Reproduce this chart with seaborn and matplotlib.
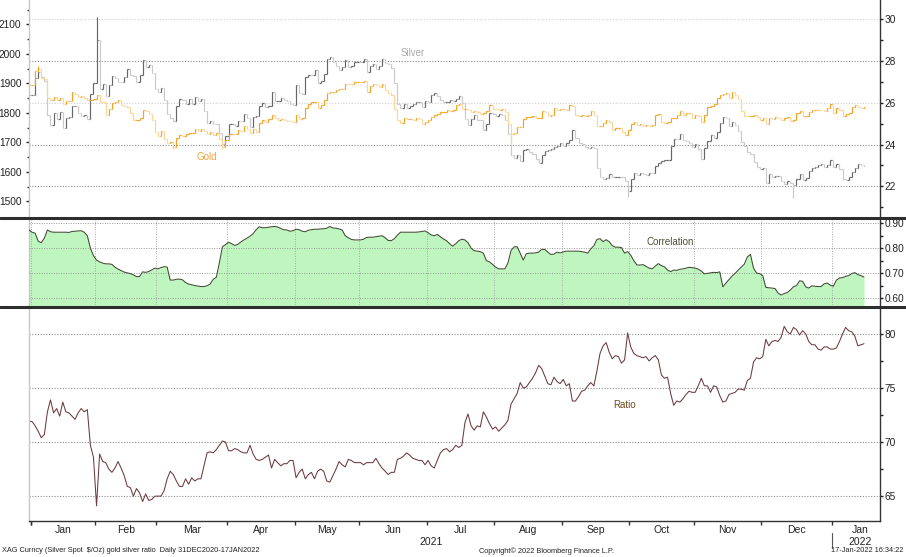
import numpy as np
import pandas as pd
import matplotlib
matplotlib.use("Agg")
import matplotlib.pyplot as plt
import seaborn as sns
from matplotlib.lines import Line2D
from matplotlib.ticker import MultipleLocator, FormatStrFormatter

# daily closes, 31DEC2020 - 17JAN2022 (one row per month)
gold = [1895,
        1895, 1943, 1950, 1918, 1913, 1849, 1844, 1855, 1845, 1851, 1829, 1840, 1840, 1871, 1865, 1855, 1856, 1850, 1843, 1843, 1848,
        1860, 1836, 1835, 1794, 1814, 1833, 1838, 1842, 1825, 1823, 1819, 1799, 1775, 1775, 1784, 1809, 1806, 1797, 1775, 1734,
        1723, 1737, 1712, 1697, 1700, 1683, 1716, 1726, 1722, 1727, 1731, 1731, 1745, 1737, 1745, 1738, 1727, 1735, 1725, 1732, 1712, 1685, 1708,
        1728, 1729, 1728, 1743, 1737, 1756, 1744, 1732, 1746, 1736, 1764, 1777, 1770, 1779, 1793, 1783, 1777, 1780, 1777, 1773, 1772, 1769,
        1792, 1779, 1784, 1815, 1831, 1836, 1837, 1815, 1827, 1844, 1867, 1869, 1870, 1876, 1881, 1882, 1898, 1897, 1896, 1903, 1905,
        1903, 1908, 1871, 1891, 1898, 1893, 1888, 1899, 1877, 1866, 1859, 1812, 1774, 1764, 1782, 1778, 1779, 1776, 1781, 1780, 1761, 1770,
        1777, 1787, 1791, 1797, 1803, 1803, 1808, 1806, 1809, 1825, 1829, 1812, 1813, 1811, 1803, 1806, 1802, 1797, 1799, 1806, 1828, 1814,
        1813, 1810, 1812, 1804, 1763, 1728, 1730, 1752, 1753, 1779, 1786, 1786, 1788, 1781, 1781, 1805, 1802, 1790, 1792, 1817, 1810, 1814,
        1814, 1810, 1827, 1823, 1794, 1788, 1794, 1788, 1794, 1805, 1794, 1754, 1754, 1764, 1774, 1768, 1743, 1750, 1750, 1734, 1726, 1743,
        1761, 1769, 1760, 1762, 1756, 1757, 1754, 1760, 1793, 1796, 1768, 1765, 1769, 1782, 1783, 1792, 1807, 1793, 1798, 1799, 1783,
        1793, 1788, 1769, 1792, 1818, 1824, 1830, 1849, 1862, 1865, 1866, 1851, 1869, 1860, 1846, 1806, 1790, 1789, 1789, 1792, 1785, 1775,
        1782, 1762, 1783, 1779, 1785, 1783, 1776, 1783, 1787, 1771, 1777, 1798, 1805, 1790, 1790, 1803, 1808, 1811, 1811, 1810, 1805, 1815, 1829,
        1801, 1815, 1810, 1789, 1797, 1801, 1818, 1826, 1821, 1817, 1818]

silver = [26.36,
          26.36, 27.17, 27.46, 27.24, 27.06, 25.40, 24.95, 25.52, 25.24, 25.57, 24.82, 25.27, 25.31, 25.84, 25.87, 25.52, 25.39, 25.41, 25.25, 26.44, 26.94,
          29.02, 26.65, 26.91, 26.34, 26.87, 27.28, 27.19, 27.01, 27.00, 27.25, 27.60, 27.34, 27.31, 27.02, 27.32, 28.05, 27.70, 27.82, 27.43, 26.68,
          26.51, 26.72, 26.14, 25.48, 25.26, 25.12, 25.84, 26.19, 26.13, 25.93, 26.19, 25.95, 26.28, 26.08, 26.20, 25.63, 25.03, 25.11, 25.00, 24.99, 24.56, 24.04, 24.40,
          24.97, 24.99, 24.90, 25.15, 25.14, 25.45, 25.28, 24.85, 25.34, 25.38, 25.83, 25.98, 25.80, 25.86, 26.52, 26.07, 26.09, 26.25, 26.13, 26.07, 25.94, 25.90,
          26.87, 26.47, 26.43, 27.25, 27.33, 27.32, 27.58, 26.97, 27.07, 27.40, 28.12, 28.19, 27.95, 27.79, 27.58, 27.72, 28.04, 27.73, 27.76, 27.94, 27.97,
          27.94, 28.10, 27.47, 27.77, 27.87, 27.64, 27.76, 28.09, 27.89, 27.85, 27.66, 26.96, 25.94, 25.75, 25.94, 25.77, 25.86, 25.93, 26.04, 26.06, 25.78, 26.07,
          26.02, 26.36, 26.49, 26.31, 26.13, 26.02, 26.05, 26.14, 26.10, 26.18, 26.32, 26.00, 25.25, 24.94, 25.22, 25.40, 25.20, 25.17, 24.71, 24.98, 25.50, 25.48,
          25.39, 25.49, 25.41, 25.20, 24.49, 23.51, 23.38, 23.52, 23.22, 23.72, 23.78, 23.66, 23.56, 23.31, 23.10, 23.50, 23.68, 23.74, 23.80, 23.91, 23.94, 24.06,
          23.93, 24.07, 24.23, 24.70, 24.31, 24.10, 24.02, 23.90, 23.86, 23.91, 23.86, 22.90, 22.43, 22.36, 22.40, 22.58, 22.43, 22.44, 22.46, 22.43, 22.24, 21.76,
          22.35, 22.62, 22.56, 22.62, 22.57, 22.55, 22.63, 22.62, 22.99, 23.14, 23.20, 23.25, 23.28, 23.92, 24.29, 24.28, 24.52, 24.23, 24.17, 24.08, 23.90,
          24.03, 23.78, 23.31, 23.83, 24.18, 24.45, 24.34, 24.62, 25.06, 25.31, 25.28, 24.88, 25.09, 24.93, 24.65, 24.11, 23.93, 23.63, 23.57, 23.15, 22.94, 22.84,
          22.88, 22.16, 22.60, 22.43, 22.48, 22.48, 22.28, 22.09, 22.28, 22.14, 22.05, 22.36, 22.59, 22.29, 22.38, 22.74, 22.89, 22.92, 23.04, 23.06, 22.91, 23.03, 23.27,
          22.91, 23.06, 22.82, 22.36, 22.30, 22.43, 22.67, 22.88, 23.08, 23.00, 22.98]

ratio = [71.9,
         71.9, 71.5, 71.0, 70.4, 70.7, 72.8, 73.9, 72.7, 73.1, 72.4, 73.7, 72.8, 72.7, 72.4, 72.1, 72.7, 73.1, 72.8, 73.0, 69.7, 68.6,
         64.1, 68.9, 68.2, 68.1, 67.5, 67.2, 67.6, 68.2, 67.6, 66.9, 65.9, 65.8, 65.0, 65.7, 65.3, 64.5, 65.2, 64.6, 64.7, 65.0,
         65.0, 65.0, 65.5, 66.6, 67.3, 67.0, 66.4, 65.9, 65.9, 66.6, 66.1, 66.7, 66.4, 66.6, 66.6, 67.8, 69.0, 69.1, 69.0, 69.3, 69.7, 70.1, 70.0,
         69.2, 69.2, 69.4, 69.3, 69.1, 69.0, 69.0, 69.7, 68.9, 68.4, 68.3, 68.4, 68.6, 68.8, 67.6, 68.4, 68.1, 67.8, 68.0, 68.0, 68.3, 68.3,
         66.7, 67.2, 67.5, 66.6, 67.0, 67.2, 66.6, 67.3, 67.5, 67.3, 66.4, 66.3, 66.9, 67.5, 68.2, 67.9, 67.7, 68.4, 68.3, 68.1, 68.1,
         68.1, 67.9, 68.1, 68.1, 68.1, 68.5, 68.0, 67.6, 67.3, 67.0, 67.2, 67.2, 68.4, 68.5, 68.7, 69.0, 68.8, 68.5, 68.4, 68.3, 68.3, 67.9,
         68.3, 67.8, 67.6, 68.3, 69.0, 69.3, 69.4, 69.1, 69.3, 69.7, 69.5, 69.7, 71.8, 72.6, 71.5, 71.1, 71.5, 71.4, 72.8, 72.3, 71.7, 71.2,
         71.4, 71.0, 71.3, 71.6, 72.0, 73.5, 74.0, 74.5, 75.5, 75.0, 75.1, 75.5, 75.9, 76.4, 77.1, 76.8, 76.1, 75.4, 75.3, 76.0, 75.6, 75.4,
         75.8, 75.2, 75.4, 73.8, 73.8, 74.2, 74.7, 74.8, 75.2, 75.5, 75.2, 76.6, 78.2, 78.9, 79.2, 78.3, 77.7, 78.0, 77.9, 77.3, 77.6, 80.1,
         78.8, 78.2, 78.0, 77.9, 77.8, 77.9, 77.5, 77.8, 78.0, 77.6, 76.2, 75.9, 76.0, 74.5, 73.4, 73.8, 73.7, 74.0, 74.4, 74.7, 74.6,
         74.6, 75.2, 75.9, 75.2, 75.2, 74.6, 75.2, 75.1, 74.3, 73.7, 73.8, 74.4, 74.5, 74.6, 74.9, 74.9, 74.8, 75.7, 75.9, 77.4, 77.8, 77.7,
         77.9, 79.5, 78.9, 79.3, 79.4, 79.3, 79.7, 80.7, 80.2, 80.0, 80.6, 80.4, 79.9, 80.3, 80.0, 79.3, 79.0, 79.0, 78.6, 78.5, 78.8, 78.8, 78.6,
         78.6, 78.7, 79.3, 80.0, 80.6, 80.3, 80.2, 79.8, 78.9, 79.0, 79.1]

corr = [0.873,
        0.864, 0.860, 0.828, 0.822, 0.840, 0.873, 0.866, 0.864, 0.864, 0.864, 0.864, 0.864, 0.863, 0.867, 0.868, 0.869, 0.870, 0.864, 0.850, 0.800, 0.770,
        0.752, 0.745, 0.740, 0.737, 0.737, 0.735, 0.724, 0.716, 0.710, 0.704, 0.701, 0.698, 0.693, 0.686, 0.686, 0.705, 0.703, 0.706, 0.713, 0.720,
        0.717, 0.722, 0.726, 0.724, 0.672, 0.672, 0.675, 0.676, 0.673, 0.662, 0.656, 0.653, 0.650, 0.648, 0.646, 0.646, 0.649, 0.656, 0.675, 0.683, 0.740, 0.806, 0.814,
        0.824, 0.818, 0.811, 0.815, 0.825, 0.833, 0.840, 0.848, 0.858, 0.874, 0.886, 0.882, 0.882, 0.884, 0.886, 0.887, 0.885, 0.879, 0.874, 0.873, 0.868, 0.870,
        0.876, 0.874, 0.868, 0.866, 0.872, 0.874, 0.876, 0.876, 0.877, 0.878, 0.880, 0.887, 0.881, 0.880, 0.877, 0.873, 0.850, 0.842, 0.835, 0.833, 0.833,
        0.833, 0.836, 0.843, 0.844, 0.844, 0.846, 0.848, 0.850, 0.842, 0.831, 0.830, 0.838, 0.852, 0.864, 0.864, 0.864, 0.864, 0.864, 0.864, 0.865, 0.867, 0.869,
        0.862, 0.853, 0.850, 0.855, 0.846, 0.837, 0.830, 0.818, 0.808, 0.818, 0.830, 0.836, 0.833, 0.822, 0.800, 0.790, 0.788, 0.786, 0.780, 0.750, 0.745, 0.735,
        0.724, 0.717, 0.717, 0.717, 0.740, 0.790, 0.805, 0.806, 0.780, 0.752, 0.778, 0.780, 0.780, 0.781, 0.784, 0.795, 0.795, 0.784, 0.775, 0.776, 0.784, 0.781,
        0.785, 0.788, 0.788, 0.788, 0.788, 0.788, 0.786, 0.784, 0.780, 0.797, 0.810, 0.835, 0.838, 0.826, 0.834, 0.826, 0.810, 0.804, 0.804, 0.802, 0.780, 0.786,
        0.772, 0.750, 0.733, 0.732, 0.734, 0.727, 0.720, 0.717, 0.728, 0.738, 0.730, 0.725, 0.712, 0.706, 0.712, 0.711, 0.715, 0.717, 0.720, 0.723, 0.722,
        0.720, 0.716, 0.708, 0.697, 0.699, 0.701, 0.703, 0.702, 0.705, 0.645, 0.660, 0.674, 0.688, 0.699, 0.712, 0.724, 0.736, 0.765, 0.775, 0.720, 0.700, 0.698,
        0.690, 0.643, 0.641, 0.640, 0.638, 0.620, 0.612, 0.618, 0.622, 0.632, 0.645, 0.650, 0.669, 0.667, 0.645, 0.640, 0.649, 0.647, 0.646, 0.646, 0.657, 0.660, 0.652,
        0.647, 0.672, 0.680, 0.682, 0.687, 0.690, 0.698, 0.702, 0.694, 0.690, 0.684]

# a few intraday extremes that stick out of the bars
silver_high = {22: 30.1}
silver_low = {195: 21.5, 249: 21.45}
gold_high = {3: 1959}
gold_low = {47: 1677, 63: 1678, 157: 1690}

dates = pd.bdate_range("2020-12-31", "2022-01-17")
n = min(len(dates), len(gold), len(silver), len(ratio), len(corr))
dates = dates[:n]
x = np.arange(n)

sns.set_theme(style="white")
plt.rcParams["font.family"] = ["Liberation Sans", "DejaVu Sans"]

W, H = 906, 557
fig = plt.figure(figsize=(W / 100, H / 100), dpi=100)


def box(top, bottom):
    return [29 / W, 1 - bottom / H, 851 / W, (bottom - top) / H]


ax_s = fig.add_axes(box(0, 216))
ax_g = ax_s.twinx()
ax_c = fig.add_axes(box(219, 305))
ax_r = fig.add_axes(box(308, 521))


def draw_ohlc(ax, closes, highs_extra, lows_extra, up_col, dn_col):
    closes = np.asarray(closes[:n], dtype=float)
    opens = np.r_[closes[0], closes[:-1]]
    hi = np.maximum(opens, closes)
    lo = np.minimum(opens, closes)
    for k, v in highs_extra.items():
        hi[k] = max(hi[k], v)
    for k, v in lows_extra.items():
        lo[k] = min(lo[k], v)
    cols = np.where(closes >= opens, up_col, dn_col)
    ax.vlines(x, lo, hi, colors=cols, lw=0.85)
    ax.hlines(opens, x - 0.42, x, colors=cols, lw=0.85)
    ax.hlines(closes, x, x + 0.42, colors=cols, lw=0.85)


xlim = (0, 277.2)

# month boundaries and label positions from the trading calendar
month_id = dates.year * 12 + dates.month
starts = np.flatnonzero(np.r_[True, month_id[1:] != month_id[:-1]])[1:]
bounds = starts - 0.5
centers, mlabels = [], []
for s in starts:
    d = dates[s]
    full = pd.bdate_range(d.replace(day=1), d + pd.offsets.MonthEnd(0))
    centers.append(s + (len(full) - 1) / 2)
    mlabels.append(d.strftime("%b"))
# last month is cut by the axis end: centre it on the visible part
centers[-1] = (centers[-1] + (bounds[-1] + xlim[1]) / 2) / 2

grid_ls = (0, (1, 1.5))

# --- top: silver (right) and gold (left) bars
for lev, col in [(22, "#8c8c8c"), (24, "#8c8c8c"), (26, "#cfcfcf"), (28, "#8c8c8c"), (30, "#cfcfcf")]:
    ax_s.axhline(lev, color=col, lw=0.8, ls=grid_ls, zorder=0)
draw_ohlc(ax_s, silver, silver_high, silver_low, "#666666", "#c9c9c9")
draw_ohlc(ax_g, gold, gold_high, gold_low, "#f7a01c", "#fcd496")
ax_s.set_ylim(20.58, 30.93)
ax_g.set_ylim(1450.2, 2182.4)
ax_s.yaxis.tick_right()
ax_g.yaxis.tick_left()
ax_s.yaxis.set_major_locator(MultipleLocator(2))
ax_s.yaxis.set_minor_locator(MultipleLocator(1))
ax_g.yaxis.set_major_locator(MultipleLocator(100))
ax_g.yaxis.set_minor_locator(MultipleLocator(50))
ax_s.tick_params(axis="y", which="both", right=True, left=False, direction="out",
                 length=2.5, width=1, pad=1, labelsize=7.3, colors="#222222")
ax_s.tick_params(axis="y", which="minor", length=1.8)
ax_g.tick_params(axis="y", which="both", left=True, right=False, direction="out",
                 length=2.5, width=1, pad=3, labelsize=7.3, colors="#222222")
ax_g.tick_params(axis="y", which="minor", length=1.8)
ax_s.text(125, 28.39, "Silver", color="#a9a9a9", fontsize=7, ha="center", va="center")
ax_g.text(58, 1650, "Gold", color="#f2a33a", fontsize=7, ha="center", va="center")

# --- middle: correlation
ax_c.fill_between(x, corr[:n], 0.5, color="#bff6bf", lw=0, zorder=1)
sns.lineplot(x=x, y=corr[:n], ax=ax_c, color="#3d4a30", lw=0.75, zorder=3)
ax_c.set_ylim(0.572, 0.917)
ax_c.yaxis.tick_right()
ax_c.yaxis.set_major_locator(MultipleLocator(0.1))
ax_c.yaxis.set_minor_locator(MultipleLocator(0.05))
ax_c.yaxis.set_major_formatter(FormatStrFormatter("%.2f"))
ax_c.set_axisbelow(False)
ax_c.yaxis.grid(True, color="#999999", lw=0.7, ls=grid_ls)
for b in bounds:
    ax_c.axvline(b, color="#a8a8a8", lw=0.7, ls=grid_ls, zorder=2)
ax_c.tick_params(axis="y", which="both", right=True, left=False, direction="out",
                 length=2.5, width=1, pad=1, labelsize=7.3, colors="#222222")
ax_c.tick_params(axis="y", which="minor", length=1.8)
ax_c.text(209, 0.825, "Correlation", color="#4d4d33", fontsize=7, ha="center", va="center")

# --- bottom: gold/silver ratio
sns.lineplot(x=x, y=ratio[:n], ax=ax_r, color="#6b3a3e", lw=0.75)
ax_r.set_ylim(62.7, 82.4)
ax_r.yaxis.tick_right()
ax_r.yaxis.set_major_locator(MultipleLocator(5))
ax_r.yaxis.set_minor_locator(MultipleLocator(2.5))
ax_r.yaxis.grid(True, color="#8c8c8c", lw=0.8, ls=grid_ls)
ax_r.tick_params(axis="y", which="both", right=True, left=False, direction="out",
                 length=2.5, width=1, pad=1, labelsize=7.3, colors="#222222")
ax_r.tick_params(axis="y", which="minor", length=1.8)
ax_r.text(194, 73.4, "Ratio", color="#6e4a1e", fontsize=7, ha="center", va="center")

ax_r.set_xticks(np.r_[0.5, bounds])
ax_r.set_xticklabels([])
ax_r.set_xticks(centers, minor=True)
ax_r.set_xticklabels(mlabels, minor=True)
ax_r.tick_params(axis="x", which="major", bottom=True, direction="out", length=3,
                 width=1, color="#333333")
ax_r.tick_params(axis="x", which="minor", bottom=True, length=0, pad=3,
                 labelsize=7.5, labelcolor="#222222")

yr_mask = dates.year == 2021
xt = ax_r.get_xaxis_transform()
ax_r.text(x[yr_mask].mean(), -0.099, "2021", transform=xt, ha="center", va="center",
          fontsize=7.5, color="#222222")
ax_r.text(centers[-1], -0.099, "2022", transform=xt, ha="center", va="center",
          fontsize=7.5, color="#222222")
ax_r.plot([bounds[-1], bounds[-1]], [-0.056, -0.127], transform=xt, clip_on=False,
          color="#555555", lw=0.8)

for ax in (ax_s, ax_g, ax_c, ax_r):
    ax.set_xlim(*xlim)
    ax.set_ylabel("")
    ax.set_xlabel("")
    for sp in ax.spines.values():
        sp.set_visible(False)
for ax in (ax_s, ax_g, ax_c):
    ax.set_xticks([])
for ax in (ax_g, ax_c, ax_r):
    ax.spines["left"].set_visible(True)
    ax.spines["left"].set_color("#c8c8c8")
    ax.spines["left"].set_linewidth(1)
for ax in (ax_s, ax_c, ax_r):
    ax.spines["right"].set_visible(True)
    ax.spines["right"].set_color("#333333")
    ax.spines["right"].set_linewidth(1)
ax_r.spines["bottom"].set_visible(True)
ax_r.spines["bottom"].set_color("#333333")
ax_r.spines["bottom"].set_linewidth(1)

# heavy panel separators
for yy in (217.5, 306.5):
    fig.add_artist(Line2D([0, 1], [1 - yy / H, 1 - yy / H], transform=fig.transFigure,
                          color="#2e2e2e", lw=2.2))

fy = 1 - 551 / H
fig.text(2 / W, fy, "XAG Curncy (Silver Spot  $/Oz) gold silver ratio  Daily 31DEC2020-17JAN2022",
         fontsize=5.3, ha="left", va="center", color="#222222")
fig.text(546 / W, fy, "Copyright\u00a9 2022 Bloomberg Finance L.P.", fontsize=5.3,
         ha="center", va="center", color="#222222")
fig.text(903 / W, fy, "17-Jan-2022 16:34:22", fontsize=5.3, ha="right", va="center",
         color="#222222")

fig.savefig("out.png", dpi=100, facecolor="white")
